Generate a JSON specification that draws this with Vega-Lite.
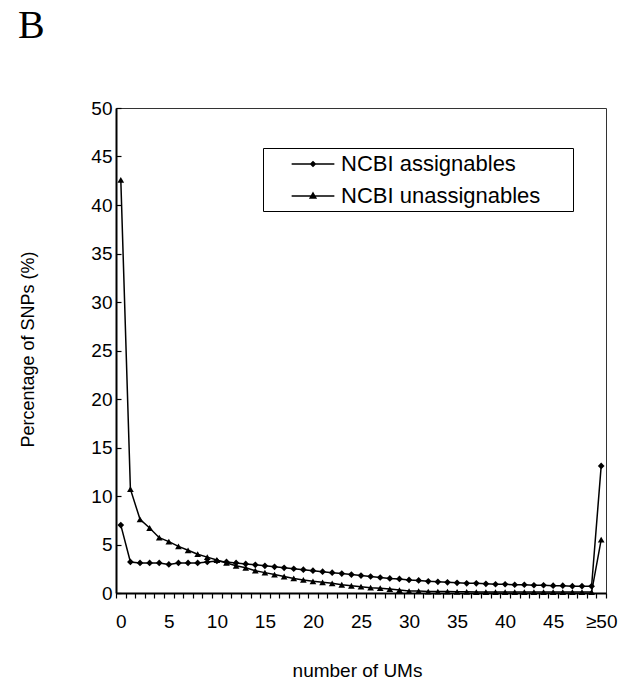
{
  "$schema": "https://vega.github.io/schema/vega-lite/v6.json",
  "autosize": "none",
  "width": 490,
  "height": 485,
  "padding": {"left": 116, "top": 108, "right": 22, "bottom": 87},
  "background": "white",
  "title": {
    "text": "B",
    "anchor": "start",
    "frame": "group",
    "font": "Liberation Serif",
    "fontSize": 40,
    "fontWeight": "normal",
    "color": "black",
    "baseline": "alphabetic",
    "dx": -98,
    "offset": 21
  },
  "config": {
    "view": {"stroke": "#333", "strokeWidth": 1},
    "axis": {
      "grid": false,
      "domainColor": "black",
      "domainWidth": 2,
      "tickColor": "black",
      "tickWidth": 1.2,
      "labelColor": "black",
      "titleColor": "black",
      "labelFont": "Liberation Sans, Arial, sans-serif",
      "titleFont": "Liberation Sans, Arial, sans-serif",
      "labelFontSize": 19,
      "titleFontSize": 18,
      "titleFontWeight": "normal"
    }
  },
  "data": {
    "values": [
      {"x": 0, "series": "NCBI assignables", "pct": 7.0},
      {"x": 1, "series": "NCBI assignables", "pct": 3.2},
      {"x": 2, "series": "NCBI assignables", "pct": 3.1},
      {"x": 3, "series": "NCBI assignables", "pct": 3.1},
      {"x": 4, "series": "NCBI assignables", "pct": 3.1},
      {"x": 5, "series": "NCBI assignables", "pct": 2.95},
      {"x": 6, "series": "NCBI assignables", "pct": 3.1},
      {"x": 7, "series": "NCBI assignables", "pct": 3.1},
      {"x": 8, "series": "NCBI assignables", "pct": 3.1},
      {"x": 9, "series": "NCBI assignables", "pct": 3.2},
      {"x": 10, "series": "NCBI assignables", "pct": 3.3},
      {"x": 11, "series": "NCBI assignables", "pct": 3.2},
      {"x": 12, "series": "NCBI assignables", "pct": 3.1},
      {"x": 13, "series": "NCBI assignables", "pct": 3.0},
      {"x": 14, "series": "NCBI assignables", "pct": 2.9},
      {"x": 15, "series": "NCBI assignables", "pct": 2.8},
      {"x": 16, "series": "NCBI assignables", "pct": 2.7},
      {"x": 17, "series": "NCBI assignables", "pct": 2.6},
      {"x": 18, "series": "NCBI assignables", "pct": 2.5},
      {"x": 19, "series": "NCBI assignables", "pct": 2.4},
      {"x": 20, "series": "NCBI assignables", "pct": 2.3},
      {"x": 21, "series": "NCBI assignables", "pct": 2.2},
      {"x": 22, "series": "NCBI assignables", "pct": 2.1},
      {"x": 23, "series": "NCBI assignables", "pct": 2.0},
      {"x": 24, "series": "NCBI assignables", "pct": 1.9},
      {"x": 25, "series": "NCBI assignables", "pct": 1.8},
      {"x": 26, "series": "NCBI assignables", "pct": 1.7},
      {"x": 27, "series": "NCBI assignables", "pct": 1.6},
      {"x": 28, "series": "NCBI assignables", "pct": 1.5},
      {"x": 29, "series": "NCBI assignables", "pct": 1.45},
      {"x": 30, "series": "NCBI assignables", "pct": 1.35},
      {"x": 31, "series": "NCBI assignables", "pct": 1.3},
      {"x": 32, "series": "NCBI assignables", "pct": 1.2},
      {"x": 33, "series": "NCBI assignables", "pct": 1.15},
      {"x": 34, "series": "NCBI assignables", "pct": 1.1},
      {"x": 35, "series": "NCBI assignables", "pct": 1.05},
      {"x": 36, "series": "NCBI assignables", "pct": 1.0},
      {"x": 37, "series": "NCBI assignables", "pct": 1.0},
      {"x": 38, "series": "NCBI assignables", "pct": 0.95},
      {"x": 39, "series": "NCBI assignables", "pct": 0.9},
      {"x": 40, "series": "NCBI assignables", "pct": 0.9},
      {"x": 41, "series": "NCBI assignables", "pct": 0.85},
      {"x": 42, "series": "NCBI assignables", "pct": 0.85},
      {"x": 43, "series": "NCBI assignables", "pct": 0.8},
      {"x": 44, "series": "NCBI assignables", "pct": 0.8},
      {"x": 45, "series": "NCBI assignables", "pct": 0.75},
      {"x": 46, "series": "NCBI assignables", "pct": 0.75},
      {"x": 47, "series": "NCBI assignables", "pct": 0.7},
      {"x": 48, "series": "NCBI assignables", "pct": 0.7},
      {"x": 49, "series": "NCBI assignables", "pct": 0.7},
      {"x": 50, "series": "NCBI assignables", "pct": 13.1},
      {"x": 0, "series": "NCBI unassignables", "pct": 42.6},
      {"x": 1, "series": "NCBI unassignables", "pct": 10.7},
      {"x": 2, "series": "NCBI unassignables", "pct": 7.6},
      {"x": 3, "series": "NCBI unassignables", "pct": 6.7},
      {"x": 4, "series": "NCBI unassignables", "pct": 5.7},
      {"x": 5, "series": "NCBI unassignables", "pct": 5.3},
      {"x": 6, "series": "NCBI unassignables", "pct": 4.8},
      {"x": 7, "series": "NCBI unassignables", "pct": 4.4},
      {"x": 8, "series": "NCBI unassignables", "pct": 4.0},
      {"x": 9, "series": "NCBI unassignables", "pct": 3.7},
      {"x": 10, "series": "NCBI unassignables", "pct": 3.4},
      {"x": 11, "series": "NCBI unassignables", "pct": 3.1},
      {"x": 12, "series": "NCBI unassignables", "pct": 2.8},
      {"x": 13, "series": "NCBI unassignables", "pct": 2.6},
      {"x": 14, "series": "NCBI unassignables", "pct": 2.3},
      {"x": 15, "series": "NCBI unassignables", "pct": 2.1},
      {"x": 16, "series": "NCBI unassignables", "pct": 1.9},
      {"x": 17, "series": "NCBI unassignables", "pct": 1.7},
      {"x": 18, "series": "NCBI unassignables", "pct": 1.5},
      {"x": 19, "series": "NCBI unassignables", "pct": 1.35},
      {"x": 20, "series": "NCBI unassignables", "pct": 1.2},
      {"x": 21, "series": "NCBI unassignables", "pct": 1.1},
      {"x": 22, "series": "NCBI unassignables", "pct": 1.0},
      {"x": 23, "series": "NCBI unassignables", "pct": 0.85},
      {"x": 24, "series": "NCBI unassignables", "pct": 0.75},
      {"x": 25, "series": "NCBI unassignables", "pct": 0.65},
      {"x": 26, "series": "NCBI unassignables", "pct": 0.55},
      {"x": 27, "series": "NCBI unassignables", "pct": 0.5},
      {"x": 28, "series": "NCBI unassignables", "pct": 0.4},
      {"x": 29, "series": "NCBI unassignables", "pct": 0.3},
      {"x": 30, "series": "NCBI unassignables", "pct": 0.2},
      {"x": 31, "series": "NCBI unassignables", "pct": 0.2},
      {"x": 32, "series": "NCBI unassignables", "pct": 0.15},
      {"x": 33, "series": "NCBI unassignables", "pct": 0.15},
      {"x": 34, "series": "NCBI unassignables", "pct": 0.15},
      {"x": 35, "series": "NCBI unassignables", "pct": 0.12},
      {"x": 36, "series": "NCBI unassignables", "pct": 0.12},
      {"x": 37, "series": "NCBI unassignables", "pct": 0.1},
      {"x": 38, "series": "NCBI unassignables", "pct": 0.1},
      {"x": 39, "series": "NCBI unassignables", "pct": 0.1},
      {"x": 40, "series": "NCBI unassignables", "pct": 0.1},
      {"x": 41, "series": "NCBI unassignables", "pct": 0.1},
      {"x": 42, "series": "NCBI unassignables", "pct": 0.1},
      {"x": 43, "series": "NCBI unassignables", "pct": 0.1},
      {"x": 44, "series": "NCBI unassignables", "pct": 0.1},
      {"x": 45, "series": "NCBI unassignables", "pct": 0.1},
      {"x": 46, "series": "NCBI unassignables", "pct": 0.1},
      {"x": 47, "series": "NCBI unassignables", "pct": 0.1},
      {"x": 48, "series": "NCBI unassignables", "pct": 0.1},
      {"x": 49, "series": "NCBI unassignables", "pct": 0.1},
      {"x": 50, "series": "NCBI unassignables", "pct": 5.5}
    ]
  },
  "encoding": {
    "x": {
      "field": "x",
      "type": "quantitative",
      "scale": {"domain": [-0.5, 50.5], "nice": false, "zero": false},
      "axis": {
        "title": "number of UMs",
        "values": [-0.5, 0.5, 1.5, 2.5, 3.5, 4.5, 5.5, 6.5, 7.5, 8.5, 9.5, 10.5, 11.5, 12.5, 13.5, 14.5, 15.5, 16.5, 17.5, 18.5, 19.5, 20.5, 21.5, 22.5, 23.5, 24.5, 25.5, 26.5, 27.5, 28.5, 29.5, 30.5, 31.5, 32.5, 33.5, 34.5, 35.5, 36.5, 37.5, 38.5, 39.5, 40.5, 41.5, 42.5, 43.5, 44.5, 45.5, 46.5, 47.5, 48.5, 49.5, 50.5],
        "labelExpr": "(datum.value + 0.5) % 5 == 0 && datum.value < 50 ? ((datum.value + 0.5) == 50 ? '≥50' : format(datum.value + 0.5, 'd')) : ''",
        "labelOffset": 4.8,
        "labelOverlap": false,
        "labelFlush": false,
        "labelBound": false,
        "tickSize": 5,
        "labelPadding": 14,
        "titleX": 241,
        "titleY": 83,
        "titleFontSize": 19,
        "titleBaseline": "alphabetic",
        "titleAnchor": "middle"
      }
    },
    "y": {
      "field": "pct",
      "type": "quantitative",
      "scale": {"domain": [0, 50], "nice": false},
      "axis": {
        "title": "Percentage of SNPs (%)",
        "values": [0, 5, 10, 15, 20, 25, 30, 35, 40, 45, 50],
        "tickSize": -5,
        "labelPadding": 9,
        "labelFlush": false,
        "labelBound": false,
        "titleX": -79,
        "titleY": 241,
        "titleAnchor": "middle"
      }
    }
  },
  "resolve": {"scale": {"shape": "independent"}},
  "layer": [
    {
      "mark": {"type": "line", "stroke": "black", "strokeWidth": 1.5},
      "encoding": {"detail": {"field": "series"}}
    },
    {
      "mark": {"type": "point", "filled": true, "color": "black", "opacity": 1, "size": 45},
      "encoding": {
        "shape": {
          "field": "series",
          "type": "nominal",
          "scale": {"domain": ["NCBI assignables", "NCBI unassignables"], "range": ["diamond", "triangle-up"]},
          "legend": null
        }
      }
    },
    {
      "mark": {"type": "point", "filled": true, "color": "black", "opacity": 1, "size": 0},
      "encoding": {
        "shape": {
          "field": "series",
          "type": "nominal",
          "scale": {"domain": ["NCBI assignables", "NCBI unassignables"], "range": ["M-1.78,-0.06H1.78V0.06H-1.78ZM-0.28,0L0,-0.28L0.28,0L0,0.28Z", "M-1.78,-0.06H1.78V0.06H-1.78ZM-0.34,0.22L0,-0.38L0.34,0.22Z"]},
          "legend": {
            "title": null,
            "orient": "none",
            "legendX": 147,
            "legendY": 40,
            "padding": 4,
            "rowPadding": 9,
            "symbolSize": 576,
            "symbolOffset": 34,
            "symbolStrokeWidth": 0,
            "symbolFillColor": "black",
            "symbolOpacity": 1,
            "labelOffset": 16,
            "labelLimit": 400,
            "labelFont": "Liberation Sans, Arial, sans-serif",
            "labelFontSize": 22,
            "labelColor": "black",
            "labelExpr": "datum.label + '\u00a0\u00a0\u2800'",
            "strokeColor": "black",
            "fillColor": "white"
          }
        }
      }
    }
  ]
}
